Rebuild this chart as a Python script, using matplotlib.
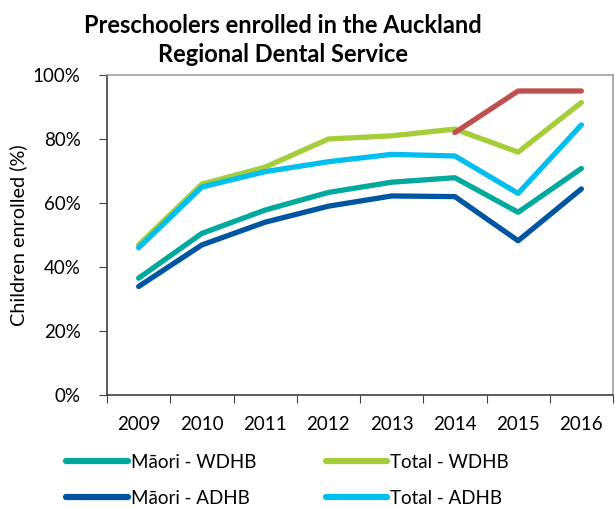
import matplotlib
matplotlib.use("Agg")
import matplotlib.pyplot as plt
from matplotlib.lines import Line2D

plt.rcParams['font.family'] = ['Lato', 'DejaVu Sans']

years = ['2009', '2010', '2011', '2012', '2013', '2014', '2015', '2016']
maori_wdhb = [36.5, 50.5, 57.8, 63.3, 66.5, 67.9, 57.1, 70.8]
total_wdhb = [46.9, 65.9, 71.2, 80.0, 81.0, 83.1, 75.9, 91.4]
maori_adhb = [33.9, 46.9, 54.0, 59.0, 62.2, 62.0, 48.2, 64.4]
total_adhb = [46.0, 65.0, 69.8, 72.9, 75.2, 74.7, 63.0, 84.4]
target_years = ['2014', '2015', '2016']
target = [82.0, 95.0, 95.0]
y_ticks = [0, 20, 40, 60, 80, 100]

c_mw = '#00A99D'
c_tw = '#A5CD39'
c_ma = '#0055A0'
c_ta = '#00BFEF'
c_t = '#C0504D'

fig = plt.figure(figsize=(6.15, 5.07), dpi=100)
ax = fig.add_axes([107/615, 1-395/507, (613-107)/615, (395-75)/507])

x = list(range(len(years)))
lw = 3.8
ax.plot(x, maori_adhb, color=c_ma, lw=lw, solid_capstyle='round', solid_joinstyle='round')
ax.plot(x, maori_wdhb, color=c_mw, lw=lw, solid_capstyle='round', solid_joinstyle='round')
ax.plot(x, total_wdhb, color=c_tw, lw=lw, solid_capstyle='round', solid_joinstyle='round')
ax.plot(x, total_adhb, color=c_ta, lw=lw, solid_capstyle='round', solid_joinstyle='round')
tx = [years.index(y) for y in target_years]
ax.plot(tx, target, color=c_t, lw=lw, solid_capstyle='round', solid_joinstyle='round')

ax.set_xlim(-0.5, len(years) - 0.5)
ax.set_ylim(0, 100)
ax.set_yticks(y_ticks)
ax.set_yticklabels([f'{v}%' for v in y_ticks], fontsize=13.5)
ax.set_xticks([i - 0.5 for i in range(len(years) + 1)])
ax.set_xticklabels([])
ax.set_xticks(x, minor=True)
ax.set_xticklabels(years, minor=True, fontsize=13.5)
ax.tick_params(axis='x', which='minor', length=0, pad=15)
ax.tick_params(axis='x', which='major', length=6, direction='out', color='#404040')
ax.tick_params(axis='y', length=6, direction='out', color='#404040', pad=13)

for s in ['top', 'right']:
    ax.spines[s].set_color('#A0A0A0')
    ax.spines[s].set_linewidth(1.2)
for s in ['left', 'bottom']:
    ax.spines[s].set_color('#404040')
    ax.spines[s].set_linewidth(1.2)

ax.set_ylabel('Children enrolled (%)', fontsize=14.3, labelpad=4)

fig.text(283/615, 1-40/507, 'Preschoolers enrolled in the Auckland\nRegional Dental Service',
         ha='center', va='center', fontsize=17, fontweight='bold', linespacing=1.3)

handles = [Line2D([], [], color=c_mw, lw=4.5, solid_capstyle='round'),
           Line2D([], [], color=c_ma, lw=4.5, solid_capstyle='round'),
           Line2D([], [], color=c_tw, lw=4.5, solid_capstyle='round'),
           Line2D([], [], color=c_ta, lw=4.5, solid_capstyle='round')]
labels = ['Māori - WDHB', 'Māori - ADHB', 'Total - WDHB', 'Total - ADHB']
fig.legend(handles, labels, ncol=2, loc='upper left', bbox_to_anchor=(66/615, 1-454/507),
           frameon=False, fontsize=13.5, handlelength=3.3, handletextpad=0.15,
           columnspacing=3.7, labelspacing=1.0, borderaxespad=0, borderpad=0)

fig.savefig('out.png', dpi=100)
